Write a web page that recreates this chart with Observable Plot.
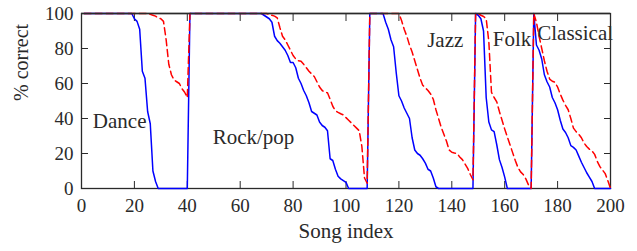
<!DOCTYPE html>
<html>
<head>
<meta charset="utf-8">
<script src="https://cdn.jsdelivr.net/npm/d3@7"></script>
<script src="https://cdn.jsdelivr.net/npm/@observablehq/plot@0.6"></script>
<style>
  html, body { margin: 0; padding: 0; background: #fff; }
</style>
</head>
<body>
<div id="chart"></div>
<script>
// Genres (song index ranges: 1-40, 41-108, 109-148, 149-170, 171-200)
const genres = ["Dance", "Rock/pop", "Jazz", "Folk", "Classical"];
const genreLabelX = [4.3, 49.6, 130.7, 155.5, 172.3];
const genreLabelY = [38.2, 29.0, 84.8, 85.1, 88.7];

// Blue solid series, per genre
const danceBlue = [100,100,100,100,100,100,100,100,100,100,100,100,100,100,100,100,100,100,100,
  97,95.5,91,67,63,44,37,10,4, 0,0,0,0,0,0,0,0,0,0,0,0];
const rockBlue = [100,100,100,100,100,100,100,100,100,100,100,100,100,100,100,100,100,100,100,100,
  100,100,100,100,100,100,100,100,
  99,98,97,95,87,84.5,83,81,79,76,72,72,69,63,60,56,53,49,44,43,42,38,36,35,33,17,16,11,7,5.5,4.5,3.5,0,
  0,0,0,0,0,0,0];
const jazzBlue = [100,100,100,100,100,100,
  95,91,85,81,66,53,50,46,43,40,29,22,20,19,17,14.5,11,10,6,1,
  0,0,0,0,0,0,0,0,0,0,0,0,0,0];
const folkBlue = [100,99,97,90,52,38,33.5,32.5,25,16.5,12,6.5,0, 0,0,0,0,0,0,0,0,0];
const classicalBlue = [100,82,79,74,65,61,58,52,49,45,39,34,32,29,24.5,23.5,22,18.5,15,12,9,6.5,4,0,
  0,0,0,0,0,0];

// Red dashed series, per genre
const danceRed = [100,100,100,100,100,100,100,100,100,100,100,100,100,100,100,100,100,100,100,100,
  100,100,100,100,100,
  99.5,99,98.5,97.5,97,95.5,85,71,65,62,61,60,57,55,52];
const rockRed = [100,100,100,100,100,100,100,100,100,100,100,100,100,100,100,100,100,100,100,100,
  100,100,100,100,100,100,100,100,100,100,
  99.5,99,98.5,97.5,92,87,85,82,79,76,74,73,72.7,71,69,67,65.5,64,61,58,56,55,54.7,51,47,44.5,43.5,42.7,42,40.5,39,37.5,36,34.5,33,24,6,3];
const jazzRed = [100,100,100,100,100,100,100,100,100,100,100,100,
  96,91,87,82,78,73,68,63,59,57.5,56,54,51,45,40,35,31,27,22,20.7,20.3,20,18,16.5,14,11.5,8,5];
const folkRed = [100,100,99,98.3,97,84,55,52,49.5,44,39,34,29.5,25,20.5,16,12,9.5,8,5.5,2,0];
const classicalRed = [100,95,87,80,73,67,62.5,61.3,60.7,58,54,50.5,47.5,45,40,34.5,32.5,31,29,26,24,22.5,21.5,19.5,15.5,12.5,10.5,8.5,4.5,0];

const xTicks = [0, 20, 40, 60, 80, 100, 120, 140, 160, 180, 200];
const yTicks = [0, 20, 40, 60, 80, 100];

const blueValues = [...danceBlue, ...rockBlue, ...jazzBlue, ...folkBlue, ...classicalBlue];
const redValues = [...danceRed, ...rockRed, ...jazzRed, ...folkRed, ...classicalRed];
const songIndex = d3.range(1, blueValues.length + 1);
const data = songIndex.map((s, i) => ({song: s, blue: blueValues[i], red: redValues[i]}));
const labels = genres.map((g, i) => ({name: g, x: genreLabelX[i], y: genreLabelY[i]}));

const ink = "#2a2a2a";
const chart = Plot.plot({
  width: 637,
  height: 251,
  marginLeft: 81,
  marginRight: 27,
  marginTop: 13,
  marginBottom: 63,
  style: {fontFamily: "Liberation Serif", fontSize: "19px", color: ink, background: "#fff", overflow: "visible"},
  x: {domain: [0, 200]},
  y: {domain: [0, 100]},
  marks: [
    Plot.frame({stroke: ink, strokeWidth: 1.3}),
    Plot.axisX({ticks: xTicks, tickSize: -7, tickPadding: 17, label: null, stroke: ink, fill: ink}),
    Plot.axisX({anchor: "top", ticks: xTicks, tickSize: -7, tickFormat: () => "", label: null, stroke: ink}),
    Plot.axisY({ticks: yTicks, tickSize: -7, tickPadding: 15, label: null, stroke: ink, fill: ink}),
    Plot.axisY({anchor: "right", ticks: yTicks, tickSize: -7, tickFormat: () => "", label: null, stroke: ink}),
    Plot.line(data, {x: "song", y: "blue", stroke: "#0000ff", strokeWidth: 1.5}),
    Plot.line(data, {x: "song", y: "red", stroke: "#ff0000", strokeWidth: 1.5, strokeDasharray: "7,4"}),
    Plot.ruleY([d3.max(yTicks)], {stroke: ink, strokeWidth: 1.7}),
    Plot.text(labels, {x: "x", y: "y", text: "name", textAnchor: "start", fontSize: 21, fill: ink}),
    Plot.text(["Song index"], {frameAnchor: "bottom", dy: 49, fontSize: 21, fill: ink}),
    Plot.text(["% correct"], {frameAnchor: "left", dx: -60, rotate: -90, fontSize: 20, fill: ink})
  ]
});
document.getElementById("chart").appendChild(chart);
</script>
</body>
</html>
